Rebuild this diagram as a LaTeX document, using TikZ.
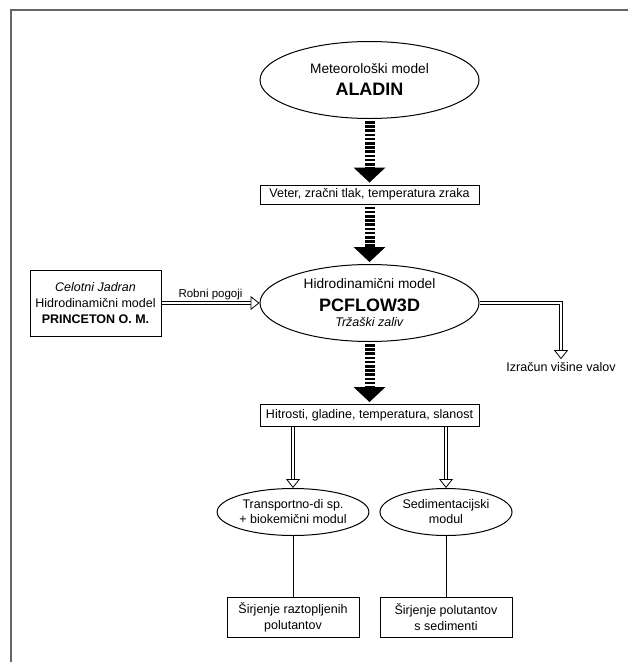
\documentclass[tikz,border=0pt]{standalone}
\usepackage{fontspec}
\setmainfont{Liberation Sans}
\usetikzlibrary{shapes.geometric,arrows.meta}

\begin{document}
\begin{tikzpicture}[x=1pt,y=-1pt,
    every node/.style={font=\fontsize{12.5}{16}\selectfont, align=center, inner sep=0pt},
    model/.style={draw, ellipse, line width=1pt, minimum width=219pt, minimum height=77pt},
    modul/.style={draw, ellipse, line width=1pt, minimum width=132pt, minimum height=47pt},
    podatki/.style={draw, rectangle, line width=1pt, minimum width=219pt, minimum height=22pt},
    izhod/.style={draw, rectangle, line width=1pt, minimum width=132pt, minimum height=40pt},
    tok/.style={line width=10pt, dash pattern=on 2.6pt off 1.6pt, shorten <=2pt, shorten >=2pt,
        -{Triangle[length=15pt, width=32pt, line width=0pt]}},
    dvojna/.style={double, double distance=2.8pt, line width=0.8pt,
        -{Triangle[open, fill=white, length=9pt, width=14pt, line width=0.8pt]}}]
    \useasboundingbox (0,0) rectangle (628,662);
    \draw[black!60, line width=1.5pt] (11,662) -- (11,10) -- (628,10);
    \node[model] (aladin) at (369.5,80) {{\fontsize{13.7}{16}\selectfont Meteorološki model}\\[6pt]{\fontsize{18}{20}\selectfont\bfseries ALADIN}};
    \node[podatki, minimum height=19pt] (veter) at (369.5,194.5) {Veter, zračni tlak, temperatura zraka};
    \node[model] (pcflow) at (369.5,303) {{\fontsize{13.7}{16}\selectfont Hidrodinamični model}\\[7pt]{\fontsize{18}{20}\selectfont\bfseries PCFLOW3D}\\[-1pt]\textit{Tržaški zaliv}};
    \node[draw, rectangle, line width=1pt, minimum width=131pt, minimum height=66pt] (princeton) at (95.5,303) {\textit{Celotni Jadran}\\Hidrodinamični model\\\textbf{PRINCETON O. M.}};
    \node[podatki] (hitrosti) at (369.5,415.5) {Hitrosti, gladine, temperatura, slanost};
    \node[modul] (transport) at (293,512) {Transportno-di sp.\\[-1pt]+ biokemični modul};
    \node[modul] (sediment) at (446,512) {Sedimentacijski\\[-1pt]modul};
    \node[izhod] (sirjenjeA) at (293,617) {Širjenje raztopljenih\\polutantov};
    \node[izhod] (sirjenjeB) at (446,617) {Širjenje polutantov\\s sedimenti};
    \node (valovi) at (561,367) {Izračun višine valov};
    \draw[tok] (aladin) -- (veter);
    \draw[tok] (veter) -- (pcflow);
    \draw[tok] (pcflow) -- (hitrosti);
    \draw[dvojna] (princeton) -- node[above=3pt, font=\fontsize{11.5}{13}\selectfont] {Robni pogoji} (pcflow);
    \draw[dvojna, shorten >=3pt] (pcflow.east) -| (valovi.north);
    \draw[dvojna] (hitrosti.south -| transport.north) -- (transport.north);
    \draw[dvojna] (hitrosti.south -| sediment.north) -- (sediment.north);
    \draw[line width=1pt] (transport) -- (sirjenjeA);
    \draw[line width=1pt] (sediment) -- (sirjenjeB);
\end{tikzpicture}
\end{document}
